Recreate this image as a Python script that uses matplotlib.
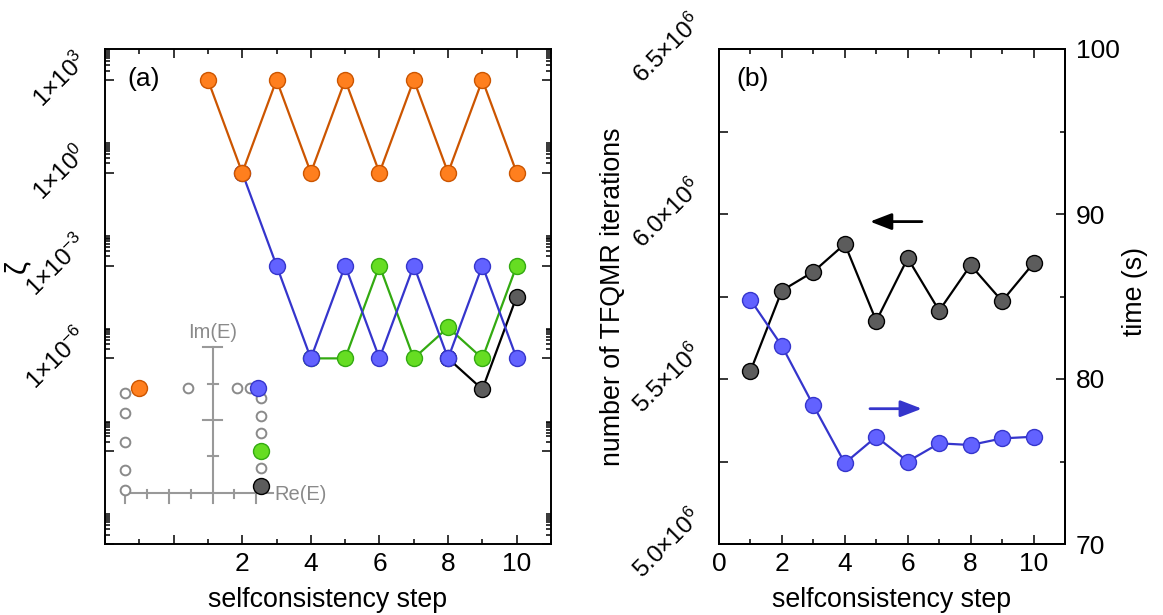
import numpy as np
import matplotlib
matplotlib.use("Agg")
import matplotlib.pyplot as plt
from matplotlib.ticker import FixedLocator, FuncFormatter, MultipleLocator

plt.rcParams["font.family"] = ["Liberation Sans", "DejaVu Sans"]
plt.rcParams["mathtext.default"] = "regular"
plt.rcParams["font.size"] = 18

# ---------------- panel (a): convergence measure zeta ----------------
orange_x = [1, 2, 3, 4, 5, 6, 7, 8, 9, 10]
orange_zeta = [1e3, 1e0, 1e3, 1e0, 1e3, 1e0, 1e3, 1e0, 1e3, 1e0]
blue_x = [2, 3, 4, 5, 6, 7, 8, 9, 10]
blue_zeta = [1e0, 1e-3, 1e-6, 1e-3, 1e-6, 1e-3, 1e-6, 1e-3, 1e-6]
green_x = [4, 5, 6, 7, 8, 9, 10]
green_zeta = [1e-6, 1e-6, 1e-3, 1e-6, 1e-5, 1e-6, 1e-3]
black_x = [8, 9, 10]
black_zeta = [1e-6, 1e-7, 1e-4]

# contour sketch in the complex energy plane
contour_left_re = [-4, -4, -4, -4, -4]
contour_left_im = [2.74, 2.19, 1.40, 0.63, 0.08]
contour_top_re = [-1.13, 1.11, 1.71]
contour_top_im = [2.88, 2.88, 2.88]
contour_right_re = [2.22, 2.22, 2.22, 2.22]
contour_right_im = [2.60, 2.11, 1.64, 0.68]
pole_orange = (-3.38, 2.88)
pole_blue = (2.08, 2.88)
pole_green = (2.22, 1.15)
pole_black = (2.22, 0.19)

# ---------------- panel (b): iterations and time ----------------
steps = [1, 2, 3, 4, 5, 6, 7, 8, 9, 10]
tfqmr_iterations = [5.524e6, 5.768e6, 5.825e6, 5.909e6, 5.676e6,
                    5.866e6, 5.707e6, 5.845e6, 5.736e6, 5.851e6]
time_s = [84.8, 82.0, 78.4, 74.9, 76.5, 75.0, 76.1, 76.0, 76.4, 76.5]

ORANGE_F, ORANGE_E = "#ff7f1e", "#cc5500"
BLUE_F, BLUE_E = "#6262ff", "#3535cc"
GREEN_F, GREEN_E = "#66dd22", "#33aa11"
GRAY_F, GRAY_E = "#5c5c5c", "#000000"
SKETCH = "#999999"

W, H = 1163, 615
fig = plt.figure(figsize=(W / 100, H / 100), dpi=100)

def frac(x0, y0, x1, y1):
    return [x0 / W, 1 - y1 / H, (x1 - x0) / W, (y1 - y0) / H]

ax = fig.add_axes(frac(105, 49, 551, 544))
ax2l = fig.add_axes(frac(719, 49, 1065, 544))

MS = 11.5
LW = 1.6
TICK_FS = 19
ROT_FS = 17.5
LABEL_FS = 19.3

def series(axis, x, y, fc, ec, lc, z):
    axis.plot(x, y, "-", color=lc, lw=LW, zorder=z)
    axis.plot(x, y, "o", ms=MS, mfc=fc, mec=ec, mew=1.0, zorder=z + 0.5)

series(ax, green_x, green_zeta, GREEN_F, GREEN_E, GREEN_E, 2)
series(ax, black_x, black_zeta, GRAY_F, GRAY_E, "black", 3)
series(ax, blue_x, blue_zeta, BLUE_F, BLUE_E, BLUE_E, 4)
series(ax, orange_x, orange_zeta, ORANGE_F, ORANGE_E, ORANGE_E, 5)

ax.set_yscale("log")
ax.set_xlim(-2, 11)
ax.set_ylim(1e-12, 1e4)

major_exp = [-12, -9, -6, -3, 0, 3]
labelled_exp = [-6, -3, 0, 3]
ax.yaxis.set_major_locator(FixedLocator([10.0 ** e for e in major_exp]))
ax.yaxis.set_minor_locator(FixedLocator(
    [m * 10.0 ** e for e in major_exp for m in range(2, 10)]))
ax.yaxis.set_major_formatter(FuncFormatter(
    lambda v, p: ("1×10$^{%d}$" % round(np.log10(v)))
    if round(np.log10(v)) in labelled_exp else ""))
ax.yaxis.set_minor_formatter(FuncFormatter(lambda v, p: ""))

ax.xaxis.set_major_locator(MultipleLocator(2))
ax.xaxis.set_minor_locator(MultipleLocator(1))
ax.xaxis.set_major_formatter(FuncFormatter(
    lambda v, p: "%d" % v if v > 0 else ""))

for a in (ax, ax2l):
    a.tick_params(which="both", direction="in", top=True, width=1.1)
    a.tick_params(which="major", length=6.5, labelsize=TICK_FS, pad=6)
    a.tick_params(which="minor", length=3.3)
    for s in a.spines.values():
        s.set_linewidth(1.4)

ax.tick_params(axis="y", which="both", right=True)
ax.tick_params(axis="y", which="major", pad=9, labelsize=ROT_FS)
for lab in ax.get_yticklabels():
    lab.set_rotation(45)
    lab.set_verticalalignment("center")

ax.set_xlabel("selfconsistency step", fontsize=LABEL_FS, labelpad=8)
ax.set_ylabel("ζ", fontsize=21)
ax.yaxis.set_label_coords(-0.165, 0.56)
ax.text(0.05, 0.94, "(a)", transform=ax.transAxes, fontsize=TICK_FS,
        ha="left", va="center")

# inset sketch of the integration contour
ins = ax.inset_axes([(115 - 105) / 446, (544 - 510) / 495,
                     (360 - 115) / 446, (510 - 320) / 495])
ins.set_xlim(-4.48, 6.76)
ins.set_ylim(-0.466, 4.74)
ins.axis("off")
ins.patch.set_alpha(0)
slw = 1.5
ins.plot([-4, 2.75], [0, 0], color=SKETCH, lw=slw)
ins.plot([0, 0], [-0.27, 4], color=SKETCH, lw=slw)
for tx in [-4, -2, 2]:
    ins.plot([tx, tx], [0.08, -0.27], color=SKETCH, lw=slw)
for tx in [-3, -1, 1]:
    ins.plot([tx, tx], [0.08, -0.14], color=SKETCH, lw=slw)
for ty in [2, 4]:
    ins.plot([-0.45, 0.45], [ty, ty], color=SKETCH, lw=slw)
for ty in [1, 3]:
    ins.plot([-0.23, 0.23], [ty, ty], color=SKETCH, lw=slw)
ins.text(0, 4.41, "Im(E)", color="#8a8a8a", fontsize=14.5, ha="center",
         va="center")
ins.text(2.81, -0.03, "Re(E)", color="#8a8a8a", fontsize=14.5, ha="left",
         va="center")
open_kw = dict(ls="none", marker="o", ms=7, mfc="white", mec="#8a8a8a",
               mew=1.4)
ins.plot(contour_left_re, contour_left_im, **open_kw)
ins.plot(contour_top_re, contour_top_im, **open_kw)
ins.plot(contour_right_re, contour_right_im, **open_kw)
for (px, py), fc, ec in [(pole_orange, ORANGE_F, ORANGE_E),
                         (pole_blue, BLUE_F, BLUE_E),
                         (pole_green, GREEN_F, GREEN_E),
                         (pole_black, GRAY_F, GRAY_E)]:
    ins.plot([px], [py], "o", ms=MS, mfc=fc, mec=ec, mew=1.0)

# ---------------- panel (b) ----------------
ax2r = ax2l.twinx()
ax2l.plot(steps, tfqmr_iterations, "-", color="black", lw=LW, zorder=2)
ax2l.plot(steps, tfqmr_iterations, "o", ms=MS, mfc=GRAY_F, mec=GRAY_E,
          mew=1.0, zorder=3)
ax2r.plot(steps, time_s, "-", color=BLUE_E, lw=LW, zorder=2)
ax2r.plot(steps, time_s, "o", ms=MS, mfc=BLUE_F, mec=BLUE_E, mew=1.0,
          zorder=3)

ax2l.set_xlim(0, 11)
ax2l.set_ylim(5.0e6, 6.5e6)
ax2r.set_ylim(70, 100)
ax2l.xaxis.set_major_locator(MultipleLocator(2))
ax2l.xaxis.set_minor_locator(MultipleLocator(1))
ax2l.xaxis.set_major_formatter(FuncFormatter(lambda v, p: "%d" % v))
ax2l.yaxis.set_major_locator(MultipleLocator(0.5e6))
ax2l.yaxis.set_minor_locator(MultipleLocator(0.25e6))
ax2l.yaxis.set_major_formatter(FuncFormatter(
    lambda v, p: "%.1f×10$^{6}$" % (v / 1e6)))
ax2l.tick_params(axis="y", which="minor", length=6.5)
ax2l.tick_params(axis="y", which="both", right=False)
ax2l.tick_params(axis="y", which="major", pad=9, labelsize=ROT_FS)
for lab in ax2l.get_yticklabels():
    lab.set_rotation(45)
    lab.set_verticalalignment("center")

ax2r.yaxis.set_major_locator(MultipleLocator(10))
ax2r.yaxis.set_minor_locator(MultipleLocator(5))
ax2r.tick_params(which="both", direction="in", width=1.1)
ax2r.tick_params(which="major", length=6.5, labelsize=TICK_FS, pad=8)
ax2r.tick_params(which="minor", length=3.3)
for s in ax2r.spines.values():
    s.set_linewidth(1.4)

ax2l.set_xlabel("selfconsistency step", fontsize=LABEL_FS, labelpad=8)
ax2l.set_ylabel("number of TFQMR iterations", fontsize=LABEL_FS)
ax2l.yaxis.set_label_coords(-0.27, 0.5)
ax2r.set_ylabel("time (s)", fontsize=LABEL_FS)
ax2r.yaxis.set_label_coords(1.165, 0.51)
ax2l.text(0.05, 0.94, "(b)", transform=ax2l.transAxes, fontsize=TICK_FS,
          ha="left", va="center")

arrow_style = "-|>,head_length=1.3,head_width=0.5"
ax2l.annotate("", xy=(4.8, 5.977e6), xytext=(6.45, 5.977e6),
              arrowprops=dict(arrowstyle=arrow_style, color="black", lw=2,
                              mutation_scale=10, shrinkA=0, shrinkB=0))
ax2r.annotate("", xy=(6.45, 78.2), xytext=(4.8, 78.2),
              arrowprops=dict(arrowstyle=arrow_style, color=BLUE_E, lw=2,
                              mutation_scale=10, shrinkA=0, shrinkB=0))

fig.savefig("out.png", dpi=100)
